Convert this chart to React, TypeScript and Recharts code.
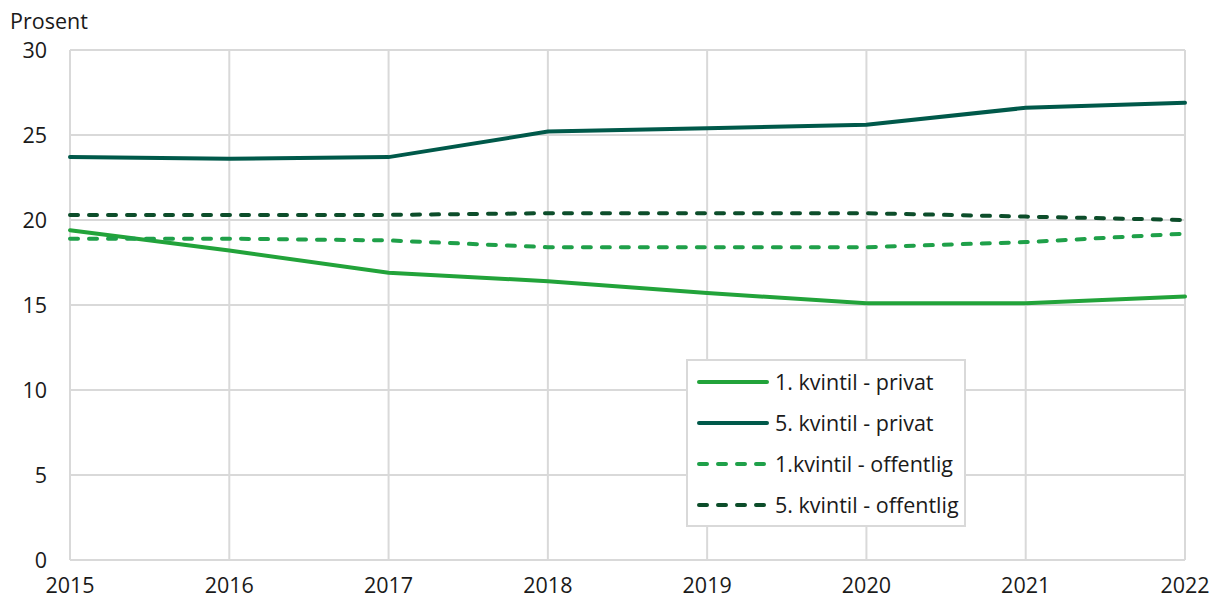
import { LineChart, Line, XAxis, YAxis, CartesianGrid, Legend } from 'recharts';

// Values (prosent)
const years = [2015, 2016, 2017, 2018, 2019, 2020, 2021, 2022];
const q1Privat = [19.4, 18.2, 16.9, 16.4, 15.7, 15.1, 15.1, 15.5];
const q5Privat = [23.7, 23.6, 23.7, 25.2, 25.4, 25.6, 26.6, 26.9];
const q1Offentlig = [18.9, 18.9, 18.8, 18.4, 18.4, 18.4, 18.7, 19.2];
const q5Offentlig = [20.3, 20.3, 20.3, 20.4, 20.4, 20.4, 20.2, 20.0];
const yTicks = [0, 5, 10, 15, 20, 25, 30];

const series = [
  { key: 'q1p', name: '1. kvintil - privat', color: '#22a33a', dashed: false },
  { key: 'q5p', name: '5. kvintil - privat', color: '#00594a', dashed: false },
  { key: 'q1o', name: '1.kvintil - offentlig', color: '#1fa049', dashed: true },
  { key: 'q5o', name: '5. kvintil - offentlig', color: '#0c4d2a', dashed: true },
];

const data = years.map((year, i) => ({
  year,
  q1p: q1Privat[i],
  q5p: q5Privat[i],
  q1o: q1Offentlig[i],
  q5o: q5Offentlig[i],
}));

const FONT = '"Open Sans", "Noto Sans", sans-serif';
const FS = 21.5;
const DASH = '8 11';

// Boxed legend with line samples
const BoxLegend = () => (
  <div
    style={{
      border: '2px solid #d9d9d9',
      background: '#fff',
      padding: '0 0 0 9px',
      boxSizing: 'border-box',
      width: 280,
      height: 168,
      display: 'flex',
      flexDirection: 'column',
      justifyContent: 'center',
      fontFamily: FONT,
      fontSize: FS,
      color: '#1a1a1a',
      textAlign: 'left',
    }}
  >
    {series.map((s) => (
      <div key={s.key} style={{ display: 'flex', alignItems: 'center', height: 41.5 }}>
        <svg width={78} height={10}>
          <line
            x1={2}
            x2={70}
            y1={5}
            y2={5}
            stroke={s.color}
            strokeWidth={4}
            strokeLinecap="round"
            strokeDasharray={s.dashed ? DASH : undefined}
          />
        </svg>
        <span>{s.name}</span>
      </div>
    ))}
  </div>
);

const App = () => {
  return (
    <div style={{ position: 'absolute', left: 0, top: 0, width: 1211, height: 601, background: '#fff' }}>
      <div
        style={{
          position: 'absolute',
          left: 10,
          top: 6,
          fontFamily: FONT,
          fontSize: FS,
          color: '#1a1a1a',
        }}
      >
        Prosent
      </div>
      <LineChart
        width={1211}
        height={601}
        data={data}
        margin={{ top: 50, right: 26, bottom: 11, left: 0 }}
      >
        <CartesianGrid stroke="#d9d9d9" strokeWidth={2} />
        <XAxis
          dataKey="year"
          type="number"
          domain={[2015, 2022]}
          ticks={years}
          height={30}
          axisLine={false}
          tickLine={false}
          tickSize={0}
          tickMargin={18}
          tick={{ fill: '#1a1a1a', fontSize: FS, fontFamily: FONT }}
        />
        <YAxis
          width={70}
          domain={[0, 30]}
          ticks={yTicks}
          axisLine={false}
          tickLine={false}
          tickSize={0}
          tickMargin={23}
          tick={{ fill: '#1a1a1a', fontSize: FS, fontFamily: FONT }}
        />
        <Legend
          layout="vertical"
          verticalAlign="middle"
          align="center"
          content={<BoxLegend />}
          wrapperStyle={{ left: 686, top: 359, width: 280, height: 168 }}
        />
        {series.map((s) => (
          <Line
            key={s.key}
            dataKey={s.key}
            name={s.name}
            type="linear"
            stroke={s.color}
            strokeWidth={4}
            strokeLinecap="round"
            strokeDasharray={s.dashed ? DASH : undefined}
            dot={false}
            activeDot={false}
            isAnimationActive={false}
          />
        ))}
      </LineChart>
    </div>
  );
};

export default App;
